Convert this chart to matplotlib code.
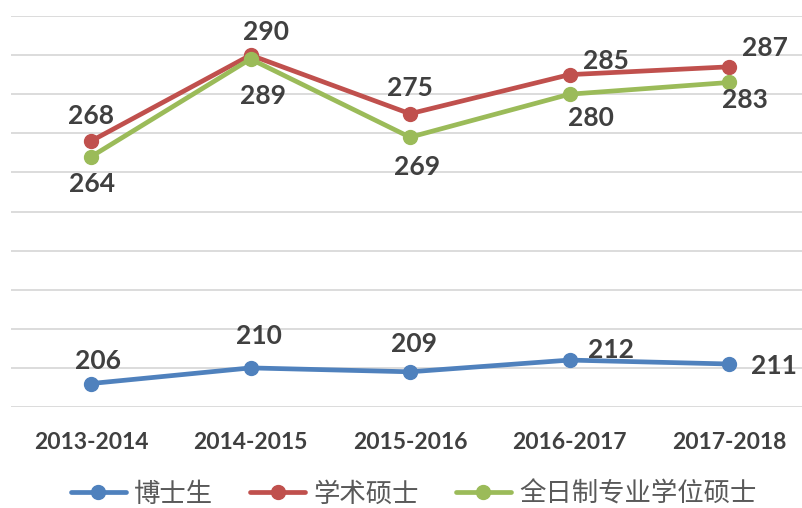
import matplotlib
matplotlib.use("Agg")
import matplotlib.pyplot as plt

# data
years = ["2013-2014", "2014-2015", "2015-2016", "2016-2017", "2017-2018"]
phd = [206, 210, 209, 212, 211]
academic = [268, 290, 275, 285, 287]
professional = [264, 289, 269, 280, 283]
names = ["博士生", "学术硕士", "全日制专业学位硕士"]

colors = ["#4F81BD", "#C0504D", "#9BBB59"]

# label offsets (pixels) so labels sit where they do in the original
offsets = [
    [(7, 23), (8, 32), (4, 28), (41, 10), (45, -2)],
    [(0, 25), (15, 23), (0, 26), (36, 14), (36, 19)],
    [(1, -27), (12, -37), (7, -30), (21, -24), (16, -18)],
]

plt.rcParams["font.family"] = ["Lato", "DejaVu Sans"]

fig = plt.figure(figsize=(8.02, 5.08), dpi=100)
ax = fig.add_axes([11.25 / 802, 101 / 508, 797.5 / 802, 391 / 508])

x = list(range(len(years)))
lines = []
for i, ys in enumerate([phd, academic, professional]):
    ln, = ax.plot(x, ys, color=colors[i], lw=3.4, marker="o", ms=10,
                  solid_capstyle="round", label=names[i], zorder=3)
    lines.append(ln)
    for j, v in enumerate(ys):
        ax.annotate(str(v), (x[j], v), xytext=offsets[i][j],
                    textcoords="offset pixels", ha="center", va="center",
                    fontsize=19, fontweight="bold", color="#404040", zorder=4)

ax.set_xlim(-0.5, 4.5)
ax.set_ylim(200, 300)
ax.set_yticks(range(200, 301, 10))
ax.yaxis.grid(True, color="#D9D9D9", lw=1.3)
ax.set_axisbelow(True)
for s in ax.spines.values():
    s.set_visible(False)
ax.tick_params(axis="y", left=False, labelleft=False)
ax.tick_params(axis="x", bottom=False, pad=14.5, labelsize=16.5, labelcolor="#404040")
ax.set_xticks(x)
ax.set_xticklabels(years, fontweight="bold")

leg = fig.legend(handles=lines, loc="center", bbox_to_anchor=(413.5 / 802, 14 / 508),
                 ncol=3, frameon=False, handlelength=2.1, handletextpad=0.3,
                 columnspacing=1.4, borderaxespad=0, borderpad=0,
                 prop={"family": ["Noto Sans CJK SC", "DejaVu Sans"], "size": 19})
for t in leg.get_texts():
    t.set_color("#595959")

fig.savefig("out.png", dpi=100)
